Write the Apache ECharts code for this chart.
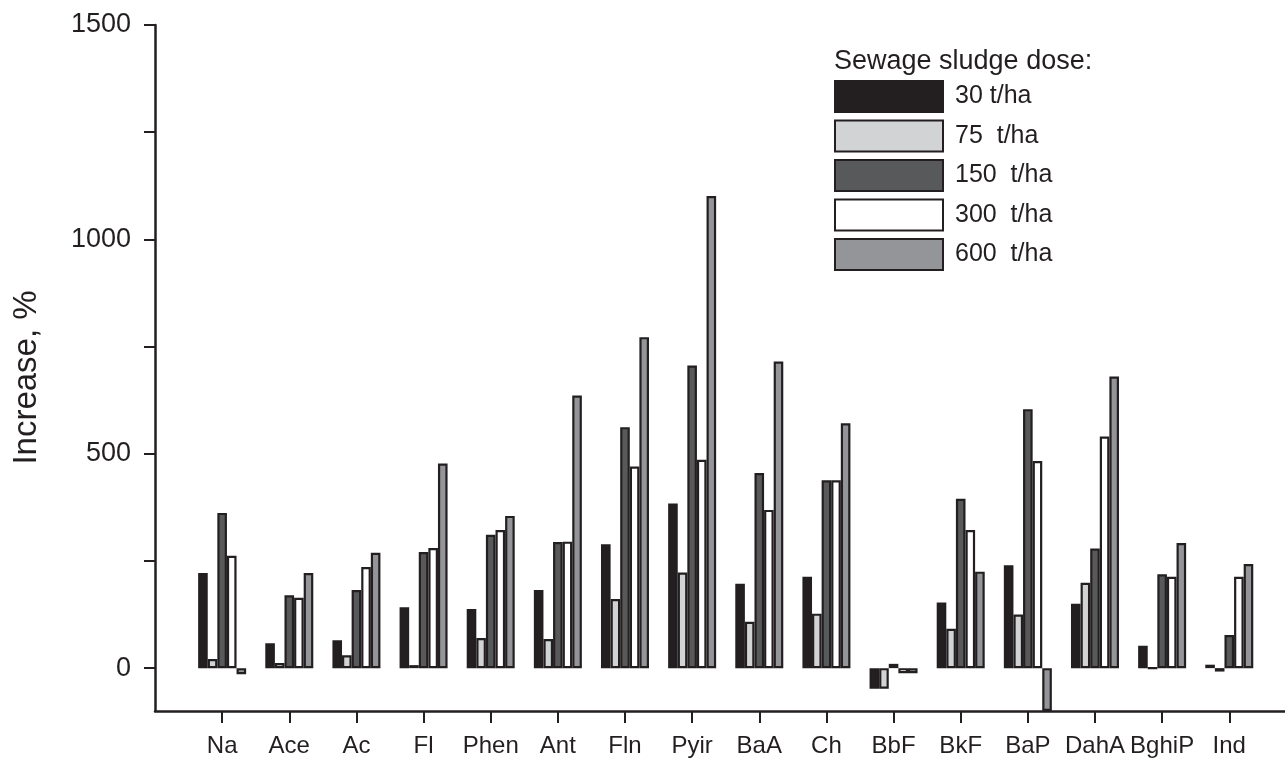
<!DOCTYPE html>
<html>
<head>
<meta charset="utf-8">
<script src="https://cdn.jsdelivr.net/npm/echarts@6/dist/echarts.min.js"></script>
<style>
html,body{margin:0;padding:0;background:#fff;}
#chart{width:1285px;height:760px;}
</style>
</head>
<body>
<div id="chart"></div>
<script>
var categories = ['Na','Ace','Ac','Fl','Phen','Ant','Fln','Pyir','BaA','Ch','BbF','BkF','BaP','DahA','BghiP','Ind'];
var seriesNames = ['30 t/ha','75  t/ha','150  t/ha','300  t/ha','600  t/ha'];
var dose30  = [222, 58, 65, 142, 138, 182, 289, 384, 197, 213, -48, 153, 240, 150, 52, 8];
var dose75  = [21, 12, 30, 7, 70, 68, 161, 223, 108, 127, -48, 92, 125, 199, 0, -8];
var dose150 = [362, 170, 182, 271, 311, 294, 562, 706, 455, 438, 10, 395, 604, 279, 219, 77];
var dose300 = [262, 164, 236, 280, 322, 295, 470, 486, 369, 438, -12, 322, 483, 540, 213, 213];
var dose600 = [-14, 222, 269, 477, 355, 636, 772, 1101, 715, 571, -12, 225, -100, 680, 292, 243];
var yTicks = [0, 250, 500, 750, 1000, 1250, 1500];
var yLabels = [0, 500, 1000, 1500];

var allData = [dose30, dose75, dose150, dose300, dose600];
var colors = ['#231f20', '#d1d3d4', '#58595b', '#ffffff', '#939598'];
var ink = '#231f20';
var font = '"Liberation Sans", Arial, sans-serif';
var catIdx = categories.map(function(c, i){ return i; });

var series = allData.map(function(arr, s){
  return {
    name: seriesNames[s],
    type: 'bar',
    barWidth: 9.6,
    barGap: '0%',
    data: arr.map(function(v, i){ return [i, v]; }),
    itemStyle: { color: colors[s], borderColor: ink, borderWidth: 2.2 },
    emphasis: { disabled: true }
  };
});

var chart = echarts.init(document.getElementById('chart'));
chart.setOption({
  animation: false,
  backgroundColor: '#ffffff',
  textStyle: { fontFamily: font, color: ink },
  title: {
    text: 'Sewage sludge dose:',
    left: 834, top: 48, padding: 0,
    textStyle: { fontFamily: font, fontSize: 27, fontWeight: 'normal', color: ink }
  },
  legend: {
    orient: 'vertical',
    left: 834, top: 80,
    itemWidth: 108, itemHeight: 31, itemGap: 6.5,
    icon: 'rect',
    selectedMode: false,
    padding: 0,
    textStyle: { fontFamily: font, fontSize: 25, color: ink, padding: [0, 0, 0, 7] },
    data: seriesNames
  },
  grid: { left: 155, right: 0, top: 25, bottom: 49, containLabel: false },
  xAxis: {
    type: 'value',
    min: -1, max: 15.83,
    splitLine: { show: false },
    axisLine: { onZero: false, lineStyle: { color: ink, width: 2.5 } },
    axisTick: { customValues: catIdx, length: 12, lineStyle: { color: ink, width: 2 } },
    axisLabel: {
      customValues: catIdx,
      formatter: function(v){ return categories[Math.round(v)] || ''; },
      fontFamily: font, fontSize: 24, color: ink, margin: 23
    }
  },
  yAxis: {
    type: 'value',
    min: -100, max: 1500,
    name: 'Increase, %',
    nameLocation: 'middle',
    nameRotate: 90,
    nameGap: 112,
    nameTextStyle: { fontFamily: font, fontSize: 33, color: ink, padding: [0, 19, 0, 0] },
    splitLine: { show: false },
    axisLine: { show: true, onZero: false, lineStyle: { color: ink, width: 2.5 } },
    axisTick: { show: true, customValues: yTicks, length: 11, lineStyle: { color: ink, width: 2 } },
    axisLabel: {
      customValues: yLabels,
      formatter: function(v){ return String(v); },
      fontFamily: font, fontSize: 27, color: ink, margin: 24
    }
  },
  series: series
});
</script>
</body>
</html>
